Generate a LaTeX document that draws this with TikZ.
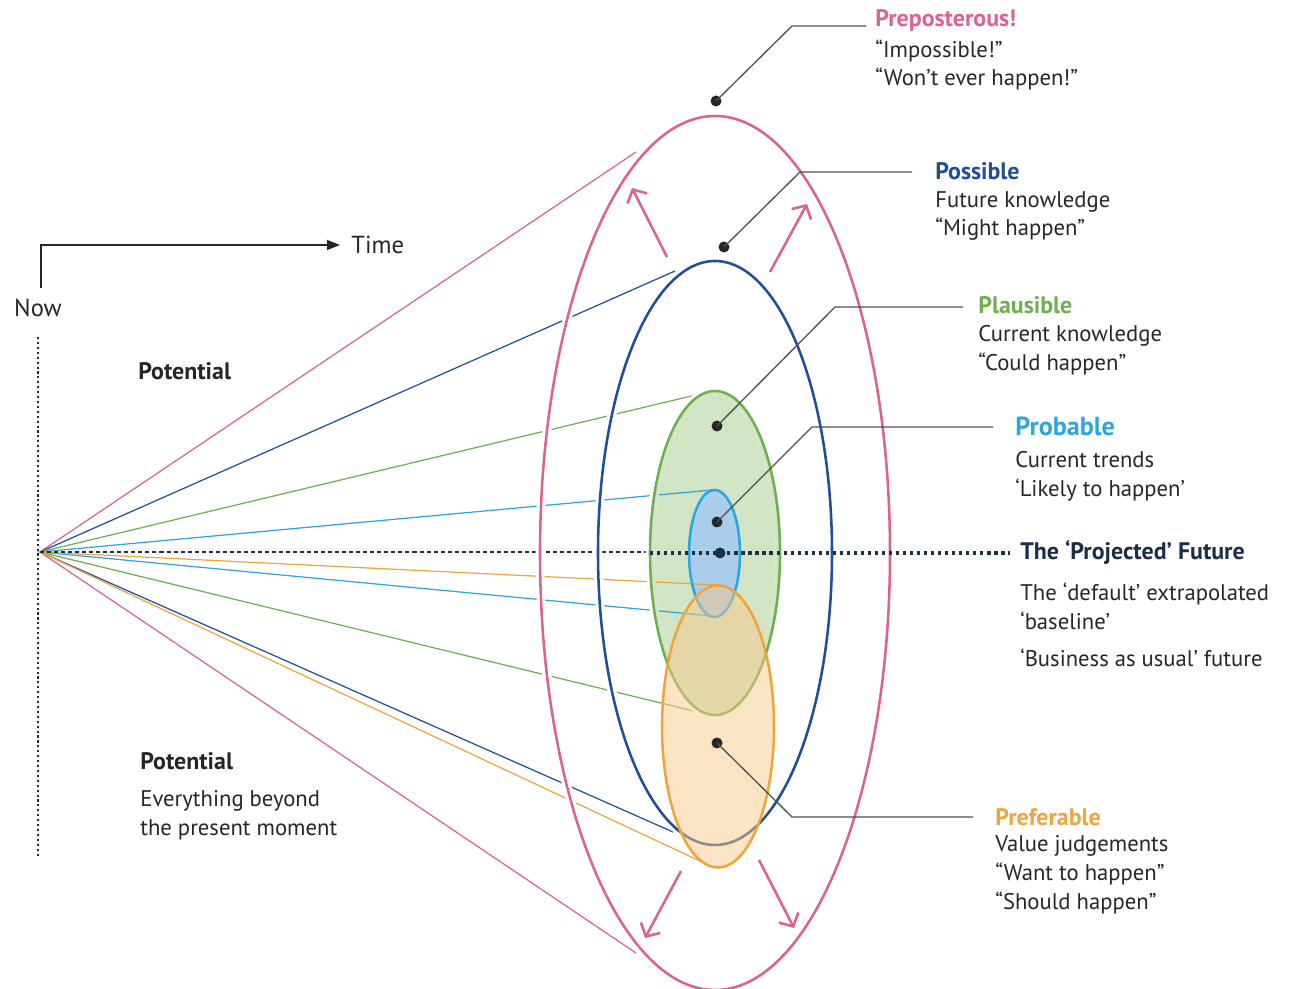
\documentclass[tikz,border=0pt]{standalone}
\usepackage{fontspec}
\setmainfont{PT Sans}
\usetikzlibrary{arrows.meta,positioning}

\definecolor{preC}{HTML}{DD6193}
\definecolor{posC}{HTML}{1F4E9B}
\definecolor{plaC}{HTML}{6DB04F}
\definecolor{plaF}{HTML}{D1E4C4}
\definecolor{proC}{HTML}{2BA6DE}
\definecolor{proF}{HTML}{A9CDEB}
\definecolor{prfC}{HTML}{F0A53C}
\definecolor{prfF}{HTML}{F8C98A}
\definecolor{prjC}{HTML}{1B2D4B}
\definecolor{txtC}{HTML}{262626}

\tikzstyle{rayline}     = [line width=0.7pt]
\tikzstyle{haloline}    = [white,line width=5pt]
\tikzstyle{ringline}    = [line width=1.45pt]
\tikzstyle{dotmark}     = [circle,fill=txtC,inner sep=0pt,minimum size=0.22cm]
\tikzstyle{leaderline}  = [draw=txtC!80,line width=0.75pt]
\tikzstyle{headtext}    = [anchor=west,inner sep=0pt,font=\fontsize{13.6}{16}\selectfont\bfseries]
\tikzstyle{bodytext}    = [anchor=west,inner sep=0pt,align=left,text=txtC,font=\fontsize{12.9}{16.4}\selectfont]
\tikzstyle{spreadarrow} = [preC,line width=1.45pt,-{Straight Barb[length=0.2cm,width=0.44cm]}]

\begin{document}
\begin{tikzpicture}[x=0.02cm,y=-0.02cm]
			\useasboundingbox (0,0) rectangle (1299,989);

			% apex and end points of the rays
			\coordinate (apex) at (40,552);
			\coordinate (preU) at (636,152);  \coordinate (preL) at (636,953);
			\coordinate (posU) at (675,271);  \coordinate (posL) at (673,832);
			\coordinate (plaU) at (708,392);  \coordinate (plaL) at (702,713);
			\coordinate (proU) at (712,490);  \coordinate (proL) at (712,616);
			\coordinate (prfU) at (717,585);  \coordinate (prfL) at (702,862);

			% inner fills
			\fill[plaF] (715,553) ellipse [x radius=65, y radius=162];
			\fill[proF] (714.5,553.5) ellipse [x radius=25.5, y radius=63.5];

			% rays
			\draw[rayline,preC] (preU) -- (apex) -- (preL);
			\draw[rayline,posC] (posU) -- (apex) -- (posL);
			\draw[rayline,plaC] (plaU) -- (apex) -- (plaL);
			\draw[rayline,proC] (proU) -- (apex) -- (proL);
			\draw[rayline,prfC] (prfU) -- (apex) -- (prfL);
			\draw[rayline,prjC,dash pattern=on 2.3pt off 1.7pt] (apex) -- (648,552);

			% outer rings
			\draw[haloline] (715,553) ellipse [x radius=175, y radius=437];
			\draw[ringline,preC] (715,553) ellipse [x radius=175, y radius=437];
			\draw[haloline] (715,553) ellipse [x radius=117, y radius=292];
			\draw[ringline,posC] (715,553) ellipse [x radius=117, y radius=292];
			\draw[haloline] (715,553) ellipse [x radius=65, y radius=162];
			\begin{scope}
				\clip (715,553) ellipse [x radius=65, y radius=162];
				\draw[haloline,draw=plaF] (715,553) ellipse [x radius=65, y radius=162];
			\end{scope}
			\draw[ringline,plaC] (715,553) ellipse [x radius=65, y radius=162];
			\draw[ringline,proC] (714.5,553.5) ellipse [x radius=25.5, y radius=63.5];

			% projected future
			\node[dotmark,fill=prjC] (prjDot) at (720,553) {};
			\coordinate (prjEnd) at (1010,553);
			\draw[prjC,line width=1.8pt,dash pattern=on 1.8pt off 2.2pt] (650,553) -- (prjEnd);

			% preferable ring
			\fill[prfF,fill opacity=0.5] (718,726.5) ellipse [x radius=56, y radius=141];
			\draw[ringline,prfC] (718,726.5) ellipse [x radius=56, y radius=141];

			% dots and leaders
			\node[dotmark] (preDot) at (716,101) {};
			\node[dotmark] (posDot) at (724,247) {};
			\node[dotmark] (plaDot) at (717,426) {};
			\node[dotmark] (proDot) at (717,522) {};
			\node[dotmark] (prfDot) at (717,743) {};
			\draw[leaderline] (preDot.center) -- (792,26) -- (866,26);
			\draw[leaderline] (posDot.center) -- (800,172) -- (912,172);
			\draw[leaderline] (plaDot.center) -- (835,307) -- (963,307);
			\draw[leaderline] (proDot.center) -- (812,427) -- (993,427);
			\draw[leaderline] (prfDot.center) -- (792,817) -- (973,817);

			% labels
			\node[headtext,text=preC] (preHead) at (875,20) {Preposterous!};
			\node[bodytext] (preText) at (875,65) {“Impossible!”\\“Won’t ever happen!”};
			\node[headtext,text=posC] (posHead) at (935,171) {Possible};
			\node[bodytext] (posText) at (935,216) {Future knowledge\\“Might happen”};
			\node[headtext,text=plaC] (plaHead) at (978,305) {Plausible};
			\node[bodytext] (plaText) at (978,350) {Current knowledge\\“Could happen”};
			\node[headtext,text=proC,font=\fontsize{14.9}{17}\selectfont\bfseries] (proHead) at (1015,426) {Probable};
			\node[bodytext] (proText) at (1015,476) {Current trends\\‘Likely to happen’};
			\node[headtext,text=prjC] (prjHead) at (1020,552) {The ‘Projected’ Future};
			\node[bodytext] (prjText) at (1020,606) {The ‘default’ extrapolated\\‘baseline’};
			\node[bodytext] (prjMore) at (1020,658) {‘Business as usual’ future};
			\node[headtext,text=prfC] (prfHead) at (995,817) {Preferable};
			\node[bodytext] (prfText) at (995,875) {Value judgements\\“Want to happen”\\“Should happen”};

			\node[headtext,text=txtC] (potUp) at (138,371) {Potential};
			\node[headtext,text=txtC] (potLow) at (140,761) {Potential};
			\node[bodytext] (potText) at (140,815) {Everything beyond\\the present moment};

			% spreading arrows
			\draw[spreadarrow] (667,257) -- (632,188);
			\draw[spreadarrow] (770,272) -- (807,204);
			\draw[spreadarrow] (681,871) -- (645,938);
			\draw[spreadarrow] (759,860) -- (794,928);

			% time axis
			\node[bodytext,anchor=center,font=\fontsize{14}{16}\selectfont] (now) at (38,308) {Now};
			\node[bodytext,font=\fontsize{14}{16}\selectfont] (time) at (351,245) {Time};
			\coordinate (axisStart) at (41,288);
			\draw[txtC,line width=0.8pt,-{Triangle[length=0.26cm,width=0.2cm]}] (axisStart) |- ([xshift=-0.22cm]time.west);
			\draw[txtC,line width=0.6pt,dash pattern=on 1.2pt off 1.6pt] (38,337) -- (38,858);
\end{tikzpicture}
\end{document}
